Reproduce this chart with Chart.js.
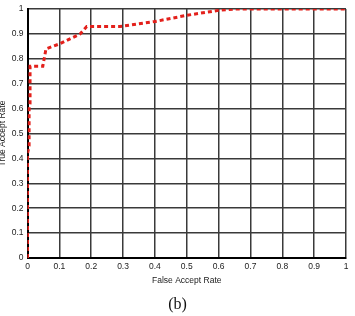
<!DOCTYPE html>
<html>
<head>
<meta charset="utf-8">
<script src="https://cdn.jsdelivr.net/npm/chart.js@4/dist/chart.umd.min.js"></script>
<style>
    html, body { margin: 0; padding: 0; background: #fff; }
    #wrap { position: relative; width: 355px; height: 316px; }
    #caption {
        position: absolute; left: 0; width: 355px; top: 295px;
        text-align: center; font-family: 'Liberation Serif', serif; font-size: 16px; color: #111;
    }
</style>
</head>
<body>
<div id="wrap">
    <canvas id="roc-chart" width="355" height="316"></canvas>
    <div id="caption">(b)</div>
</div>
<script>
// ROC curve points
const farValues = [0, 0, 0.005, 0.005, 0.008, 0.008, 0.048, 0.058, 0.10, 0.165, 0.186, 0.29, 0.40, 0.50, 0.60, 0.65, 1];
const tarValues = [0, 0.42, 0.45, 0.60, 0.62, 0.77, 0.77, 0.84, 0.86, 0.90, 0.93, 0.93, 0.95, 0.975, 0.995, 1, 1];
const tickValues = [0, 0.1, 0.2, 0.3, 0.4, 0.5, 0.6, 0.7, 0.8, 0.9, 1];

const points = farValues.map((x, i) => ({ x: x, y: tarValues[i] }));
const tickFont = { family: "'Liberation Sans', Arial, sans-serif", size: 8.5 };

function fixedTicks(scale) {
    scale.ticks = tickValues.map(v => ({ value: v }));
}

const ctx = document.getElementById('roc-chart').getContext('2d');
new Chart(ctx, {
    type: 'scatter',
    data: {
        datasets: [{
            data: points,
            showLine: true,
            borderColor: '#e3201b',
            borderWidth: 3,
            borderDash: [4, 3],
            pointRadius: 0,
            tension: 0
        }]
    },
    options: {
        responsive: false,
        animation: false,
        layout: { padding: { top: 4, right: 9, bottom: 29, left: 0 } },
        plugins: { legend: { display: false }, tooltip: { enabled: false } },
        scales: {
            x: {
                type: 'linear', min: 0, max: 1,
                afterBuildTicks: fixedTicks,
                afterFit: s => { s.height = 29; },
                grid: { color: '#3a3a3a', lineWidth: 1.5, drawTicks: false },
                border: { color: '#000', width: 2 },
                ticks: { font: tickFont, color: '#222', padding: 4, maxRotation: 0, callback: v => String(v) },
                title: { display: true, text: 'False Accept Rate', font: tickFont, color: '#222', padding: { top: 0, bottom: 1 } }
            },
            y: {
                type: 'linear', min: 0, max: 1,
                afterBuildTicks: fixedTicks,
                afterFit: s => { s.width = 27.5; },
                grid: { color: '#3a3a3a', lineWidth: 1.5, drawTicks: false },
                border: { color: '#000', width: 2 },
                ticks: { font: tickFont, color: '#222', padding: 4, callback: v => String(v) },
                title: { display: true, text: 'True Accept Rate', font: tickFont, color: '#222', padding: { top: -2, bottom: 0 } }
            }
        }
    }
});
</script>
</body>
</html>
